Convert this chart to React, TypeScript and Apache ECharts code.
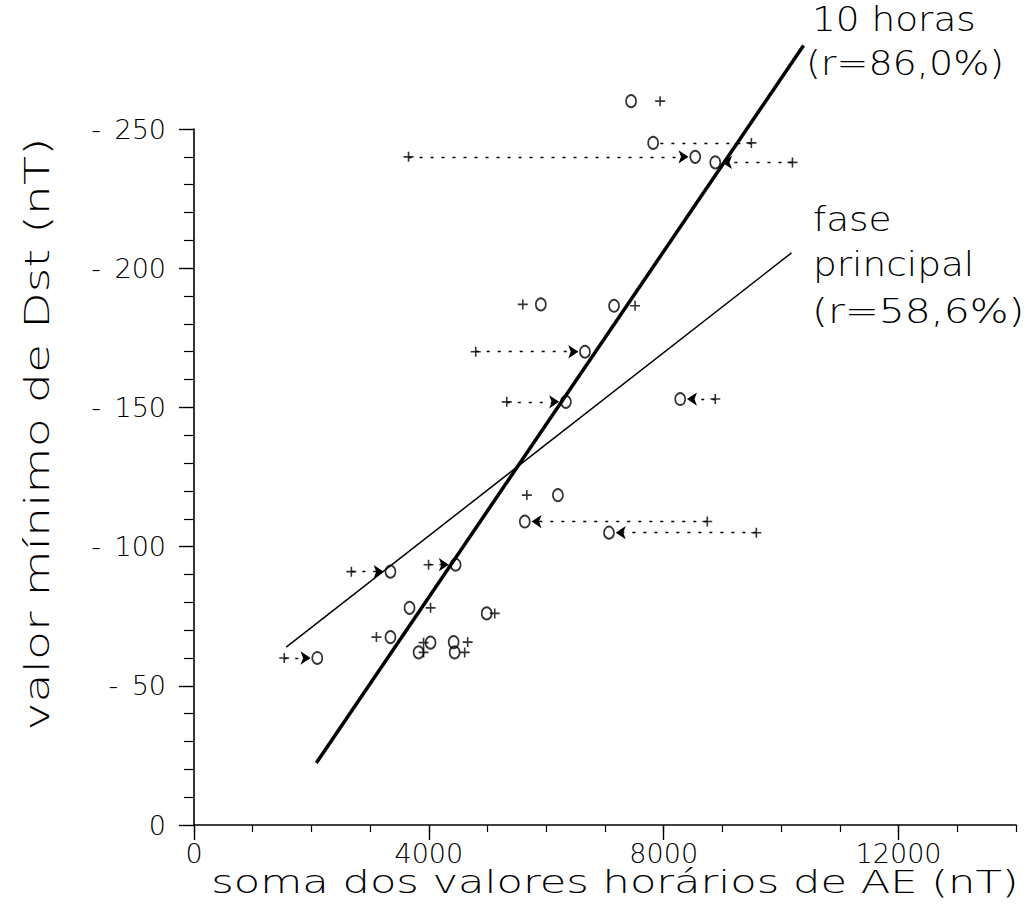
import React, { useEffect, useRef } from 'react';
import * as echarts from 'echarts';

// Minimum Dst value for each storm (plotted as positive magnitude, nT)
const dstMin = [260, 245, 240, 238, 187, 186.5, 170, 152, 153, 118.5, 109, 105, 91, 93.5, 78, 76, 67.5, 65.5, 62, 65.7, 62, 60];
// Sum of hourly AE values over 10 hours (circles)
const ae10h = [7444, 7820, 8537, 8878, 5907, 7154, 6659, 6334, 8281, 6198, 5634, 7068, 3346, 4456, 3671, 4985, 3346, 4029, 3825, 4422, 4439, 2100];
// Sum of hourly AE values over the main phase (crosses)
const aeMain = [7939, 9493, 3654, 10193, 5600, 7512, 4798, 5327, 8878, 5669, 8742, 9578, 2680, 3995, 4029, 5122, 3107, 3910, 3910, 4661, 4610, 1537];
// Connector kind between main-phase value and 10-hour value
const linkKind = ['none', 'dotted', 'arrow', 'arrow', 'none', 'none', 'arrow', 'arrow', 'arrow', 'none', 'arrow', 'arrow', 'arrow', 'arrow', 'none', 'none', 'none', 'none', 'none', 'none', 'none', 'arrow'];

// Regression lines (end points)
const fit10h = [[2083, 22.3], [10381, 280]];
const fitMain = [[1571, 63.9], [10176, 205.5]];

const xTickLabels = [0, 4000, 8000, 12000];

const FONT = "'DejaVu Sans', 'Liberation Sans', sans-serif";
const ARROW_GAP = 115;

export default function App() {
  const ref = useRef<HTMLDivElement>(null);
  useEffect(() => {
    if (!ref.current) return;
    const chart = echarts.init(ref.current, null, { renderer: 'svg' });

    const arrowLinks: any[] = [];
    const plainLinks: any[] = [];
    dstMin.forEach((y, i) => {
      const k = linkKind[i];
      if (k === 'none') return;
      const from = aeMain[i];
      const to = ae10h[i];
      const dir = to > from ? 1 : -1;
      const item = { coords: [[from, y], [to - dir * ARROW_GAP, y]] };
      if (k === 'arrow') arrowLinks.push(item);
      else plainLinks.push(item);
    });

    const pts10h = ae10h.map((x, i) => [x, dstMin[i]]);
    const ptsMain = aeMain.map((x, i) => [x, dstMin[i]]);

    const textStyleBase = { fill: '#000', fontFamily: FONT, fontWeight: 200 };

    chart.setOption({
      animation: false,
      backgroundColor: '#fff',
      grid: { left: 194, right: 13, top: 129, bottom: 91, containLabel: false },
      xAxis: [
        {
          type: 'value',
          min: 0,
          max: 14000,
          interval: 4000,
          axisLine: { show: true, lineStyle: { color: '#000', width: 1.6 } },
          axisTick: { show: true, length: 15, customValues: xTickLabels, lineStyle: { color: '#000', width: 1.4 } },
          axisLabel: {
            customValues: xTickLabels,
            color: '#000',
            fontSize: 27,
            fontFamily: FONT,
            fontWeight: 200,
            margin: 15,
            formatter: (v: number) => String(v),
          },
          splitLine: { show: false },
        },
        {
          type: 'value',
          min: 0,
          max: 14000,
          interval: 1000,
          position: 'bottom',
          axisLine: { show: false },
          axisTick: { show: true, length: 7, lineStyle: { color: '#000', width: 1.2 } },
          axisLabel: { show: false },
          splitLine: { show: false },
        },
      ],
      yAxis: {
        type: 'value',
        min: 0,
        max: 250,
        interval: 50,
        axisLine: { show: true, lineStyle: { color: '#000', width: 1.6 } },
        axisTick: { show: true, length: 15, lineStyle: { color: '#000', width: 1.4 } },
        minorTick: { show: true, splitNumber: 5, length: 10, lineStyle: { color: '#000', width: 1.2 } },
        axisLabel: {
          color: '#000',
          fontSize: 27,
          fontFamily: FONT,
          fontWeight: 200,
          margin: 28,
          formatter: (v: number) => (v === 0 ? '0' : '-\u2002' + v),
        },
        splitLine: { show: false },
      },
      series: [
        {
          type: 'lines',
          coordinateSystem: 'cartesian2d',
          xAxisIndex: 0,
          symbol: ['none', 'arrow'],
          symbolSize: 10,
          lineStyle: { color: '#000', width: 1.3, type: [3, 8], opacity: 1 },
          data: arrowLinks,
          z: 2,
        },
        {
          type: 'lines',
          coordinateSystem: 'cartesian2d',
          xAxisIndex: 0,
          symbol: ['none', 'none'],
          lineStyle: { color: '#000', width: 1.3, type: [3, 8], opacity: 1 },
          data: plainLinks,
          z: 2,
        },
        {
          name: '10 horas',
          type: 'line',
          xAxisIndex: 0,
          data: fit10h,
          showSymbol: false,
          clip: false,
          lineStyle: { color: '#000', width: 3.5 },
          z: 3,
        },
        {
          name: 'fase principal',
          type: 'line',
          xAxisIndex: 0,
          data: fitMain,
          showSymbol: false,
          clip: false,
          lineStyle: { color: '#000', width: 1.5 },
          z: 3,
        },
        {
          name: '10 horas pts',
          type: 'scatter',
          xAxisIndex: 0,
          data: pts10h,
          clip: false,
          symbol: 'circle',
          symbolSize: [10, 12],
          itemStyle: { color: 'rgba(255,255,255,0)', borderColor: '#000', borderWidth: 1.8 },
          z: 4,
        },
        {
          name: 'fase principal pts',
          type: 'scatter',
          xAxisIndex: 0,
          data: ptsMain,
          clip: false,
          symbol: 'path://M5 0V10M0 5H10',
          symbolSize: 10,
          itemStyle: { color: 'rgba(0,0,0,0)', borderColor: '#000', borderWidth: 1.6 },
          z: 4,
        },
      ],
      graphic: [
        {
          type: 'text',
          x: 615,
          y: 882,
          scaleX: 1.35,
          style: { ...textStyleBase, text: 'soma dos valores horários de AE (nT)', fontSize: 32, textAlign: 'center', textVerticalAlign: 'middle' },
        },
        {
          type: 'text',
          x: 38,
          y: 434,
          rotation: Math.PI / 2,
          scaleX: 1.44,
          style: { ...textStyleBase, text: 'valor mínimo de Dst (nT)', fontSize: 33, textAlign: 'center', textVerticalAlign: 'middle' },
        },
        { type: 'text', x: 812, y: 19, scaleX: 1.1, style: { ...textStyleBase, text: '10 horas', fontSize: 34, textAlign: 'left', textVerticalAlign: 'middle' } },
        { type: 'text', x: 806, y: 64, scaleX: 1.12, style: { ...textStyleBase, text: '(r=86,0%)', fontSize: 34, textAlign: 'left', textVerticalAlign: 'middle' } },
        { type: 'text', x: 813, y: 219, scaleX: 1.1, style: { ...textStyleBase, text: 'fase', fontSize: 34, textAlign: 'left', textVerticalAlign: 'middle' } },
        { type: 'text', x: 813, y: 264, scaleX: 1.1, style: { ...textStyleBase, text: 'principal', fontSize: 34, textAlign: 'left', textVerticalAlign: 'middle' } },
        { type: 'text', x: 812, y: 311, scaleX: 1.2, style: { ...textStyleBase, text: '(r=58,6%)', fontSize: 34, textAlign: 'left', textVerticalAlign: 'middle' } },
      ],
    });
    return () => chart.dispose();
  }, []);
  return <div ref={ref} style={{ width: 1029, height: 916, position: 'absolute', left: 0, top: 0 }} />;
}
